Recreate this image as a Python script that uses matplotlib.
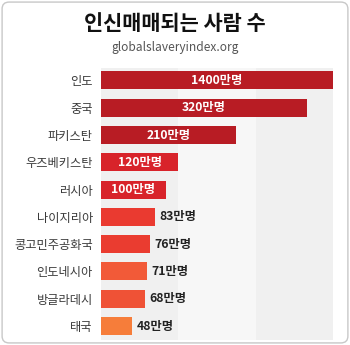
import matplotlib
matplotlib.use("Agg")
import matplotlib.pyplot as plt
from matplotlib.patches import FancyBboxPatch

plt.rcParams['font.family'] = ['Noto Sans CJK KR', 'DejaVu Sans']

countries = ["인도", "중국", "파키스탄", "우즈베키스탄", "러시아",
             "나이지리아", "콩고민주공화국", "인도네시아", "방글라데시", "태국"]
values = [1400, 320, 210, 120, 100, 83, 76, 71, 68, 48]  # 만명
labels = ["1400만명", "320만명", "210만명", "120만명", "100만명",
          "83만명", "76만명", "71만명", "68만명", "48만명"]
colors = ["#b81c24", "#b81c24", "#b81c24", "#d8232a", "#d8232a",
          "#ea3a30", "#ea3c30", "#f25a38", "#ef5236", "#f67d3a"]
inside = [True, True, True, True, True, False, False, False, False, False]

title = "인신매매되는 사람 수"
subtitle = "globalslaveryindex.org"

fig = plt.figure(figsize=(3.5, 3.45), dpi=100)
fig.patch.set_facecolor("white")

# outer rounded border
border = FancyBboxPatch((0.006, 0.006), 0.988, 0.988,
                        boxstyle="round,pad=0,rounding_size=0.02",
                        transform=fig.transFigure, facecolor="none",
                        edgecolor="#c8c8c8", linewidth=1.0, zorder=5)
fig.patches.append(border)

fig.text(0.5, 0.932, title, ha="center", va="center", fontsize=15,
         fontweight="bold", color="#111111")
fig.text(0.5, 0.862, subtitle, ha="center", va="center", fontsize=8.6,
         color="#555555")

ax = fig.add_axes([0.289, 0.0145, 0.662, 0.788])
xmax = 360
ax.set_xlim(0, xmax)
ax.set_ylim(len(values) - 0.49, -0.45)
ax.set_facecolor("#f0f0f0")
ax.axvspan(120, 240, color="#f7f7f7", zorder=0, lw=0)

ys = list(range(len(values)))
ax.barh(ys, values, height=0.66, color=colors, zorder=2)

for y, v, lab, ins in zip(ys, values, labels, inside):
    if ins:
        xc = min(v, xmax) / 2
        ax.text(xc, y, lab, ha="center", va="center", color="white",
                fontsize=8.8, fontweight="bold", zorder=3)
    else:
        ax.text(v + 7, y, lab, ha="left", va="center", color="#222222",
                fontsize=8.8, fontweight="bold", zorder=3)

ax.set_yticks(ys)
ax.set_yticklabels(countries, fontsize=8.8, color="#3a3a3a", fontweight="medium")
ax.tick_params(axis="y", length=0, pad=6)
ax.set_xticks([])
for s in ax.spines.values():
    s.set_visible(False)

fig.savefig("out.png", dpi=100, facecolor="white")
